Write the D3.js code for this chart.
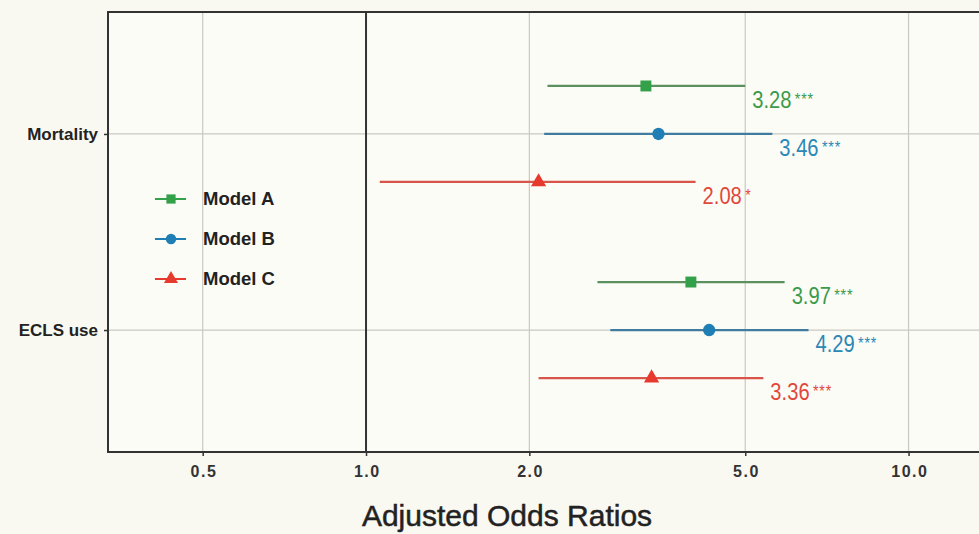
<!DOCTYPE html>
<html><head><meta charset="utf-8">
<script src="https://cdn.jsdelivr.net/npm/d3@7"></script>
<style>
html,body{margin:0;padding:0;background:#f9f9f2;}
svg{display:block;font-family:"Liberation Sans",Arial,sans-serif;}
</style></head>
<body>
<svg id="chart" width="979" height="534"></svg>
<script>
// ---- data ----
const categories = ["Mortality", "ECLS use"];
const models = ["Model A", "Model B", "Model C"];
const mortalityOR   = [3.28, 3.46, 2.08];
const mortalityLow  = [2.16, 2.13, 1.06];
const mortalityHigh = [5.00, 5.61, 4.05];
const mortalitySig  = ["***", "***", "*"];
const eclsOR   = [3.97, 4.29, 3.36];
const eclsLow  = [2.67, 2.82, 2.08];
const eclsHigh = [5.91, 6.54, 5.40];
const eclsSig  = ["***", "***", "***"];
const xTicks = [0.5, 1.0, 2.0, 5.0, 10.0];
const xTickLabels = ["0.5", "1.0", "2.0", "5.0", "10.0"];

const rows = [];
models.forEach((m, i) => {
  rows.push({cat: categories[0], model: m, or: mortalityOR[i], lo: mortalityLow[i], hi: mortalityHigh[i], sig: mortalitySig[i]});
  rows.push({cat: categories[1], model: m, or: eclsOR[i], lo: eclsLow[i], hi: eclsHigh[i], sig: eclsSig[i]});
});

// ---- styles ----
const textColor = {"Model A": "#3b9a4c", "Model B": "#2b87b6", "Model C": "#e0483b"};
const lineColor = {"Model A": "#5a915f", "Model B": "#3f7c9f", "Model C": "#d9554a"};
const markColor = {"Model A": "#33a04a", "Model B": "#1f7fb5", "Model C": "#e63a2e"};
const shape = {"Model A": d3.symbolSquare, "Model B": d3.symbolCircle, "Model C": d3.symbolTriangle};
const shapeSize = {"Model A": 120, "Model B": 120, "Model C": 100};

const svg = d3.select("#chart");
const P = {left: 108, top: 12, right: 992, bottom: 452};

const x = d3.scaleLog().domain([0.3345, 14.25]).range([P.left, P.right]);
const y = d3.scalePoint().domain(categories).range([P.top, P.bottom]).padding(0.622);
const dodge = d3.scaleBand().domain(models).range([-72, 72]);
const yy = d => y(d.cat) + dodge(d.model) + dodge.bandwidth() / 2;

// panel background
svg.append("rect").attr("x", P.left).attr("y", P.top)
  .attr("width", P.right - P.left).attr("height", P.bottom - P.top)
  .attr("fill", "#fcfcf6");

// grid
const grid = svg.append("g");
grid.selectAll("line.vx").data(xTicks.filter(t => t !== 1)).join("line")
  .attr("x1", d => x(d)).attr("x2", d => x(d))
  .attr("y1", P.top).attr("y2", P.bottom)
  .attr("stroke", "#c9c9c2").attr("stroke-width", 1.2);
grid.selectAll("line.hy").data(categories).join("line")
  .attr("x1", P.left).attr("x2", P.right)
  .attr("y1", d => y(d)).attr("y2", d => y(d))
  .attr("stroke", "#c9c9c2").attr("stroke-width", 1.2);

// reference line at OR = 1
svg.append("line").attr("x1", x(1)).attr("x2", x(1))
  .attr("y1", P.top).attr("y2", P.bottom)
  .attr("stroke", "#333").attr("stroke-width", 2);

// CI lines
svg.append("g").selectAll("line").data(rows).join("line")
  .attr("x1", d => x(d.lo)).attr("x2", d => x(d.hi))
  .attr("y1", yy).attr("y2", yy)
  .attr("stroke", d => lineColor[d.model]).attr("stroke-width", 2.2);

// points
svg.append("g").selectAll("path").data(rows).join("path")
  .attr("d", d => d3.symbol().type(shape[d.model]).size(shapeSize[d.model])())
  .attr("transform", d => `translate(${x(d.or)},${yy(d)})`)
  .attr("fill", d => markColor[d.model]);

// value labels (condensed numbers, small raised stars)
const lab = svg.append("g").selectAll("text").data(rows).join("text")
  .attr("transform", d => `translate(${x(d.hi) + 7},${yy(d) + 22}) scale(0.84,1)`)
  .attr("fill", d => textColor[d.model]);
lab.append("tspan").attr("font-size", 24).text(d => d.or.toFixed(2));
lab.append("tspan").attr("font-size", 17).attr("dx", 4).attr("dy", -3)
  .attr("letter-spacing", 1).text(d => d.sig);

// panel border
svg.append("rect").attr("x", P.left).attr("y", P.top)
  .attr("width", P.right - P.left).attr("height", P.bottom - P.top)
  .attr("fill", "none").attr("stroke", "#333").attr("stroke-width", 2);

// x axis
const xAxis = d3.axisBottom(x).tickValues(xTicks)
  .tickFormat((d, i) => xTickLabels[i]).tickSize(4).tickPadding(10);
const gx = svg.append("g").attr("transform", `translate(0,${P.bottom})`).call(xAxis);
gx.select(".domain").remove();
gx.selectAll(".tick line").attr("stroke", "#333").attr("stroke-width", 1.5);
gx.selectAll(".tick text").attr("font-size", 16).attr("font-weight", "bold")
  .attr("letter-spacing", 1.5).attr("dx", 0.75)
  .attr("fill", "#333").attr("font-family", "Liberation Sans, Arial, sans-serif");

// y axis
const yAxis = d3.axisLeft(y).tickSize(4).tickPadding(6);
const gy = svg.append("g").attr("transform", `translate(${P.left},0)`).call(yAxis);
gy.select(".domain").remove();
gy.selectAll(".tick line").attr("stroke", "#333").attr("stroke-width", 1.5);
gy.selectAll(".tick text").attr("font-size", 17).attr("font-weight", "bold")
  .attr("fill", "#222").attr("font-family", "Liberation Sans, Arial, sans-serif");

// x axis title
svg.append("text").attr("x", 507).attr("y", 526)
  .attr("text-anchor", "middle").attr("font-size", 30)
  .attr("fill", "#222").attr("stroke", "#222").attr("stroke-width", 0.5)
  .text("Adjusted Odds Ratios");

// legend
const lg = svg.append("g");
const legY = d3.scalePoint().domain(models).range([199, 279]);
models.forEach(m => {
  const g = lg.append("g").attr("transform", `translate(0,${legY(m)})`);
  g.append("line").attr("x1", 155).attr("x2", 186).attr("y1", 0).attr("y2", 0)
    .attr("stroke", markColor[m]).attr("stroke-width", 2);
  g.append("path").attr("d", d3.symbol().type(shape[m]).size(85)())
    .attr("transform", "translate(171,0)").attr("fill", markColor[m]);
  g.append("text").attr("x", 203).attr("y", 1).attr("dominant-baseline", "middle")
    .attr("font-size", 18.5).attr("font-weight", "bold").attr("fill", "#222").text(m);
});
</script>
</body></html>
